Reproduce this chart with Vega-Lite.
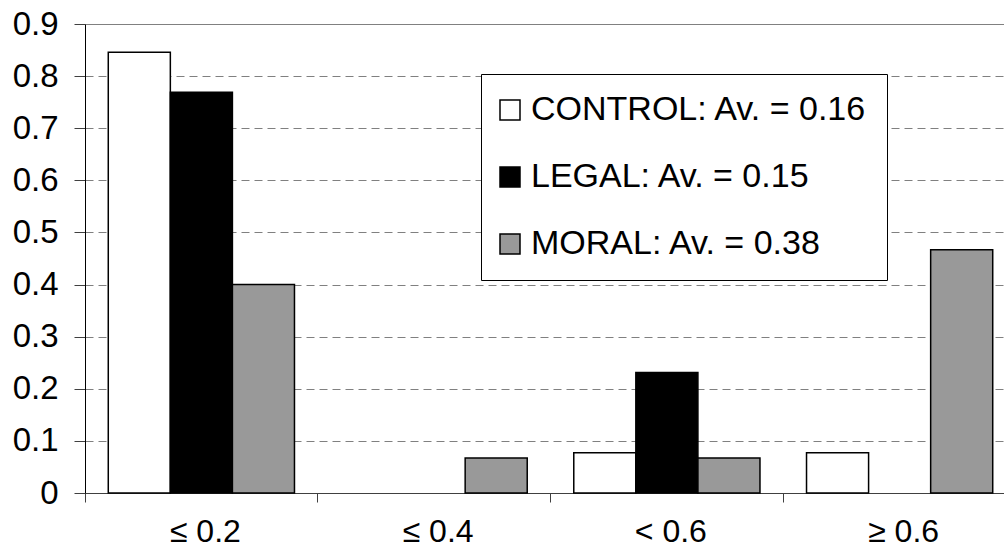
{
  "$schema": "https://vega.github.io/schema/vega-lite/v6.json",
  "width": 919,
  "height": 469,
  "autosize": "none",
  "padding": {"left": 85, "top": 24, "right": 0, "bottom": 55},
  "background": "white",
  "config": {"view": {"stroke": null}, "font": "Liberation Sans"},
  "data": {
    "values": [
      {"bin": "≤ 0.2", "group": "CONTROL: Av. = 0.16", "freq": 0.846},
      {"bin": "≤ 0.2", "group": "LEGAL: Av. = 0.15", "freq": 0.769},
      {"bin": "≤ 0.2", "group": "MORAL: Av. = 0.38", "freq": 0.4},
      {"bin": "≤ 0.4", "group": "MORAL: Av. = 0.38", "freq": 0.067},
      {"bin": "< 0.6", "group": "CONTROL: Av. = 0.16", "freq": 0.077},
      {"bin": "< 0.6", "group": "LEGAL: Av. = 0.15", "freq": 0.231},
      {"bin": "< 0.6", "group": "MORAL: Av. = 0.38", "freq": 0.067},
      {"bin": "≥ 0.6", "group": "CONTROL: Av. = 0.16", "freq": 0.077},
      {"bin": "≥ 0.6", "group": "MORAL: Av. = 0.38", "freq": 0.467}
    ]
  },
  "mark": {"type": "bar", "stroke": "black", "strokeWidth": 1.5},
  "encoding": {
    "x": {
      "field": "bin",
      "type": "nominal",
      "sort": ["≤ 0.2", "≤ 0.4", "< 0.6", "≥ 0.6"],
      "scale": {"domain": ["≤ 0.2", "≤ 0.4", "< 0.6", "≥ 0.6"], "range": [0, 931], "paddingInner": 0, "paddingOuter": 0},
      "axis": {
        "title": null,
        "bandPosition": 0,
        "labelOffset": 4,
        "labelAngle": 0,
        "labelFontSize": 32,
        "labelColor": "black",
        "labelPadding": 14,
        "tickSize": 9,
        "tickColor": "#404040",
        "domainColor": "#404040",
        "grid": false
      }
    },
    "xOffset": {
      "field": "group",
      "type": "nominal",
      "scale": {"domain": ["CONTROL: Av. = 0.16", "LEGAL: Av. = 0.15", "MORAL: Av. = 0.38"], "paddingInner": 0, "paddingOuter": 0.375}
    },
    "y": {
      "field": "freq",
      "type": "quantitative",
      "scale": {"domain": [0, 0.9], "nice": false},
      "axis": {
        "title": null,
        "values": [0, 0.1, 0.2, 0.3, 0.4, 0.5, 0.6, 0.7, 0.8, 0.9],
        "format": ".1~f",
        "labelFontSize": 33,
        "labelColor": "black",
        "labelPadding": 16,
        "tickSize": 11,
        "tickColor": "#404040",
        "domainColor": "black",
        "grid": true,
        "gridColor": "#808080",
        "gridDash": {"condition": {"test": "datum.value >= 0.89", "value": []}, "value": [8, 5]}
      }
    },
    "color": {
      "field": "group",
      "type": "nominal",
      "scale": {
        "domain": ["CONTROL: Av. = 0.16", "LEGAL: Av. = 0.15", "MORAL: Av. = 0.38"],
        "range": ["white", "black", "#999999"]
      },
      "legend": {
        "title": null,
        "orient": "none",
        "legendX": 396,
        "legendY": 50,
        "direction": "vertical",
        "fillColor": "white",
        "strokeColor": "black",
        "padding": 19,
        "rowPadding": 33,
        "symbolType": "square",
        "symbolSize": 400,
        "symbolOffset": -7,
        "symbolStrokeColor": "black",
        "symbolStrokeWidth": 1.5,
        "labelFontSize": 34,
        "labelOffset": 4,
        "labelColor": "black",
        "labelLimit": 1000
      }
    }
  }
}
